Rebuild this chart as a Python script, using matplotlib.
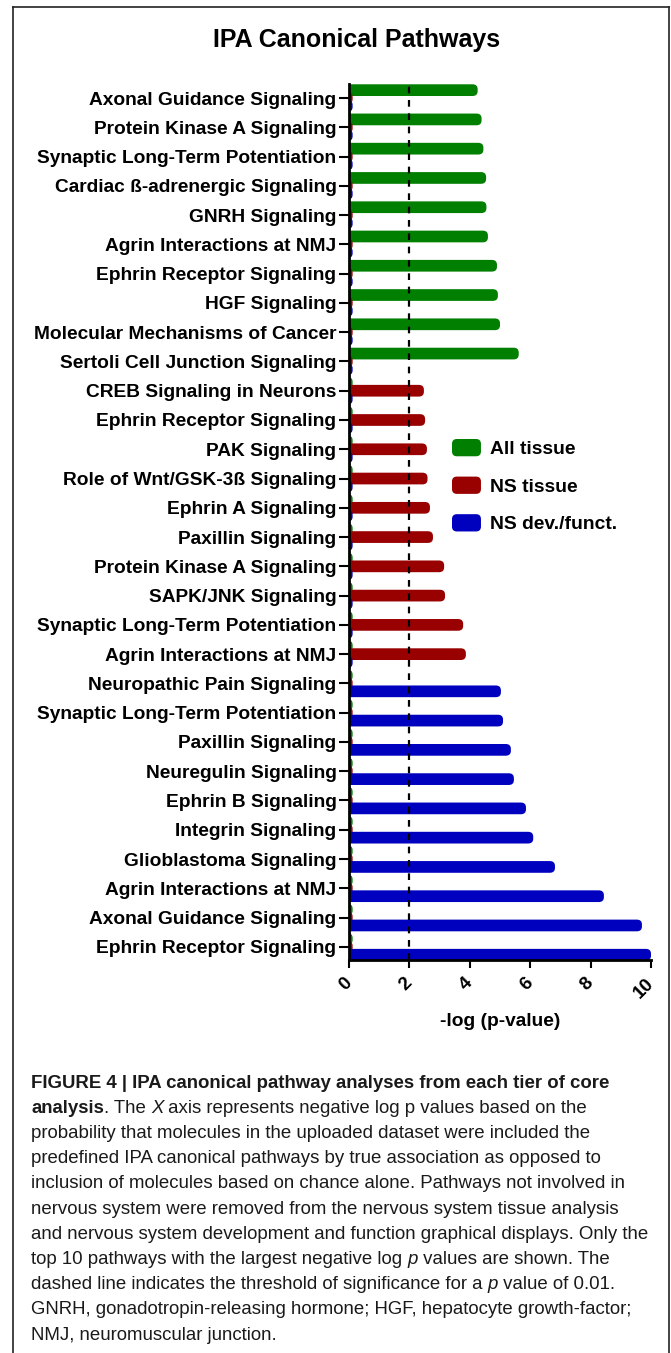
import numpy as np
import matplotlib
matplotlib.use('Agg')
from matplotlib import pyplot as plt
from matplotlib.patches import Patch, FancyBboxPatch
from matplotlib.legend_handler import HandlerPatch
from matplotlib.lines import Line2D

# pathways, top to bottom
pathways = ['Axonal Guidance Signaling', 'Protein Kinase A Signaling',
            'Synaptic Long-Term Potentiation', 'Cardiac \u00df-adrenergic Signaling',
            'GNRH Signaling', 'Agrin Interactions at NMJ', 'Ephrin Receptor Signaling',
            'HGF Signaling', 'Molecular Mechanisms of Cancer', 'Sertoli Cell Junction Signaling',
            'CREB Signaling in Neurons', 'Ephrin Receptor Signaling', 'PAK Signaling',
            'Role of Wnt/GSK-3\u00df Signaling', 'Ephrin A Signaling', 'Paxillin Signaling',
            'Protein Kinase A Signaling', 'SAPK/JNK Signaling', 'Synaptic Long-Term Potentiation',
            'Agrin Interactions at NMJ', 'Neuropathic Pain Signaling',
            'Synaptic Long-Term Potentiation', 'Paxillin Signaling', 'Neuregulin Signaling',
            'Ephrin B Signaling', 'Integrin Signaling', 'Glioblastoma Signaling',
            'Agrin Interactions at NMJ', 'Axonal Guidance Signaling', 'Ephrin Receptor Signaling']

stub = 0.12
all_tissue = [4.26, 4.39, 4.45, 4.54, 4.55, 4.6, 4.9, 4.93, 5.0, 5.62] + [stub] * 20
ns_tissue = [stub] * 10 + [2.48, 2.52, 2.58, 2.6, 2.68, 2.78, 3.15, 3.18, 3.78, 3.87] + [stub] * 10
ns_dev = [stub] * 20 + [5.03, 5.1, 5.36, 5.46, 5.86, 6.1, 6.82, 8.44, 9.7, 10.0]

series = [('All tissue', all_tissue, '#007f00'),
          ('NS tissue', ns_tissue, '#990000'),
          ('NS dev./funct.', ns_dev, '#0000bf')]
xticks = [0, 2, 4, 6, 8, 10]
threshold = 2

W, H = 671, 1353
fig = plt.figure(figsize=(W / 100, H / 100), dpi=100)
ax = fig.add_axes([349 / W, 1 - 960 / H, 302 / W, 876 / H])

y = np.arange(len(pathways))
offsets = [-0.27, 0.0, 0.27]
hidden = 0.25  # bars start left of the spine so only the right end shows rounded
for (name, vals, col), off in zip(series, offsets):
    bars = ax.barh(y + off, np.array(vals) + hidden, left=-hidden, height=0.4)
    for r in bars.patches:
        x0, y0 = r.get_x(), r.get_y()
        w, h = r.get_width(), r.get_height()
        r.remove()
        ax.add_patch(FancyBboxPatch((x0, y0), w, h,
                                    boxstyle='round,pad=0,rounding_size=0.17',
                                    mutation_aspect=0.97, facecolor=col,
                                    edgecolor='none', zorder=2))

ax.axvline(threshold, color='black', lw=1.6, ls=(0, (3, 3)), zorder=3)

ax.set_xlim(0, 10)
ax.set_ylim(29.45, -0.48)
ax.set_yticks(y)
ax.set_yticklabels(pathways, fontsize=13.8, fontweight='bold', family='Liberation Sans')
ax.set_xticks(xticks)
ax.set_xticklabels([str(t) for t in xticks], fontsize=13.5, fontweight='bold',
                   family='Liberation Sans', rotation=45, ha='right', va='center',
                   rotation_mode='anchor')
ax.tick_params(axis='y', length=7, width=1.5, pad=2)
ax.tick_params(axis='x', length=6, width=1.5, pad=9)
for s in ['top', 'right']:
    ax.spines[s].set_visible(False)
for s in ['left', 'bottom']:
    ax.spines[s].set_linewidth(2)
    ax.spines[s].set_zorder(4)


def rounded_handle(legend, orig_handle, xdescent, ydescent, width, height, fontsize):
    return FancyBboxPatch((-xdescent, -ydescent), width, height,
                          boxstyle='round,pad=0,rounding_size=3.5')


handles = [Patch(facecolor=c, edgecolor='none', label=n) for n, v, c in series]
fig.legend(handles=handles, loc='upper left', bbox_to_anchor=(452 / W, 1 - 439 / H),
           bbox_transform=fig.transFigure, frameon=False, borderpad=0, borderaxespad=0,
           prop={'family': 'Liberation Sans', 'weight': 'bold', 'size': 13.9},
           handlelength=1.5, handleheight=1.0, labelspacing=0.95, handletextpad=0.45,
           handler_map={Patch: HandlerPatch(patch_func=rounded_handle)})

fig.text(357 / W, 1 - 40 / H, 'IPA Canonical Pathways', ha='center', va='center',
         fontsize=18, fontweight='bold', family='Liberation Sans')
fig.text(500 / W, 1 - 1022 / H, '-log (p-value)', ha='center', va='center',
         fontsize=13.8, fontweight='bold', family='Liberation Sans')

# frame around the figure
for xs, ys in [((13, 13), (H, 7)), ((13, 669), (7, 7)), ((669, 669), (7, H))]:
    fig.add_artist(Line2D([x / W for x in xs], [1 - v / H for v in ys],
                          transform=fig.transFigure, color='#222222', lw=1.2))

# caption
cap_font = ['Liberation Sans']
cap_size = 13.4
caption = [
    [('FIGURE 4 | IPA canonical pathway analyses from each tier of core', 'bold', 'normal')],
    [('analysis', 'bold', 'normal'), ('. The ', 'normal', 'normal'), ('X', 'normal', 'italic'),
     (' axis represents negative log p values based on the', 'normal', 'normal')],
    [('probability that molecules in the uploaded dataset were included the', 'normal', 'normal')],
    [('predefined IPA canonical pathways by true association as opposed to', 'normal', 'normal')],
    [('inclusion of molecules based on chance alone. Pathways not involved in', 'normal', 'normal')],
    [('nervous system were removed from the nervous system tissue analysis', 'normal', 'normal')],
    [('and nervous system development and function graphical displays. Only the', 'normal', 'normal')],
    [('top 10 pathways with the largest negative log ', 'normal', 'normal'), ('p', 'normal', 'italic'),
     (' values are shown. The', 'normal', 'normal')],
    [('dashed line indicates the threshold of significance for a ', 'normal', 'normal'),
     ('p', 'normal', 'italic'), (' value of 0.01.', 'normal', 'normal')],
    [('GNRH, gonadotropin-releasing hormone; HGF, hepatocyte growth-factor;', 'normal', 'normal')],
    [('NMJ, neuromuscular junction.', 'normal', 'normal')],
]
renderer = fig.canvas.get_renderer()
for i, segs in enumerate(caption):
    yy = 1 - (1083 + i * 25.2) / H
    xpx = 31
    for txt, wt, st in segs:
        t = fig.text(xpx / W, yy, txt, ha='left', va='center', fontsize=cap_size,
                     fontweight=wt, fontstyle=st, family=cap_font, color='#1a1a1a')
        xpx += t.get_window_extent(renderer).width

fig.savefig('out.png', dpi=100)
